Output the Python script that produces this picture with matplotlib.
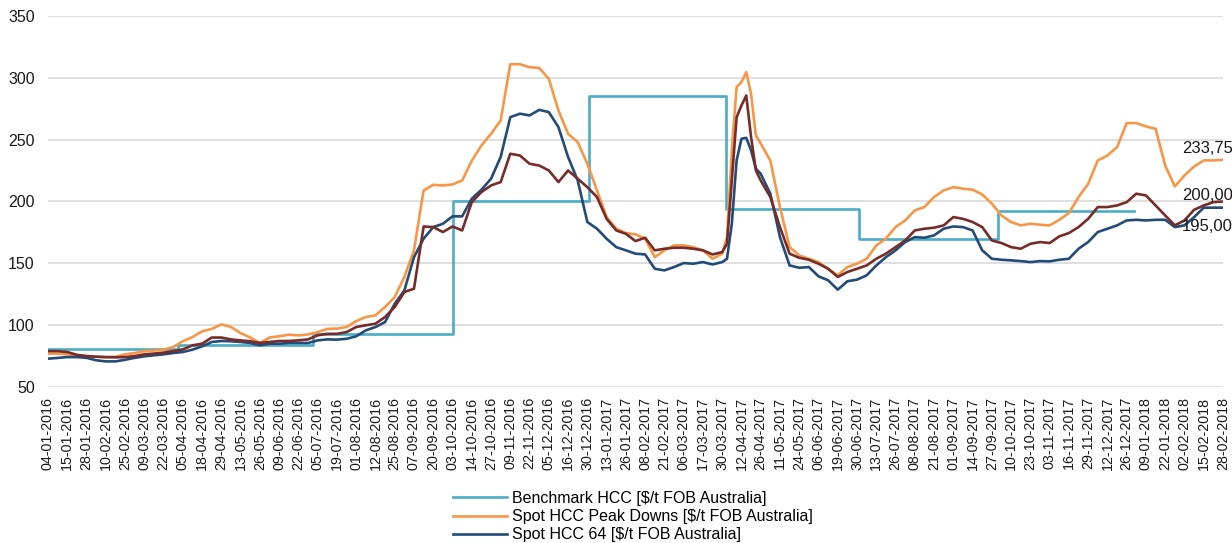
"""Hard coking coal prices 2016-2018: benchmark vs spot, FOB Australia."""

import numpy as np
import matplotlib
matplotlib.use("Agg")
import matplotlib.pyplot as plt

plt.rcParams["font.family"] = ["Liberation Sans", "DejaVu Sans"]

# every 9th business day gets a label
tick_labels = [
    "04-01-2016", "15-01-2016", "28-01-2016", "10-02-2016", "25-02-2016",
    "09-03-2016", "22-03-2016", "05-04-2016", "18-04-2016", "29-04-2016",
    "13-05-2016", "26-05-2016", "09-06-2016", "22-06-2016", "05-07-2016",
    "19-07-2016", "01-08-2016", "12-08-2016", "25-08-2016", "07-09-2016",
    "20-09-2016", "03-10-2016", "14-10-2016", "27-10-2016", "09-11-2016",
    "22-11-2016", "05-12-2016", "16-12-2016", "30-12-2016", "13-01-2017",
    "26-01-2017", "08-02-2017", "21-02-2017", "06-03-2017", "17-03-2017",
    "30-03-2017", "12-04-2017", "26-04-2017", "11-05-2017", "24-05-2017",
    "06-06-2017", "19-06-2017", "30-06-2017", "13-07-2017", "26-07-2017",
    "08-08-2017", "21-08-2017", "01-09-2017", "14-09-2017", "27-09-2017",
    "10-10-2017", "23-10-2017", "03-11-2017", "16-11-2017", "29-11-2017",
    "12-12-2017", "26-12-2017", "09-01-2018", "22-01-2018", "02-02-2018",
    "15-02-2018", "28-02-2018",
]

# sample positions in tick units (finer around the April 2017 spike)
pos = np.concatenate([np.arange(0, 35, 0.5), np.arange(35, 37, 0.25),
                      np.arange(37, 61.01, 0.5)])

# quarterly benchmark: start position of each quarter and its price
bench_x = [0, 6.75, 13.75, 21.0, 28.1, 35.2, 42.1, 49.3, 56.4]
bench_y = [81, 84, 92.5, 200, 285, 193.6, 170, 192, 192]

peak_downs = [
    77, 77, 76.4, 75.5, 75, 74.5, 74, 74.5, 76.4, 77.5,
    79, 79.5, 80.2, 82.3, 87, 90.4, 95, 97, 100.6, 98.5,
    93.6, 90, 85.6, 90, 91, 92.3, 91.7, 92.5, 94.4, 97,
    97.2, 98.5, 103.3, 106.6, 108, 114.7, 122.7, 139, 160.5, 209,
    213.5, 213, 213.8, 217, 233, 245.3, 254.7, 265.5, 311, 311,
    308.6, 308, 299.2, 273.6, 254.7, 248, 230.5, 209, 187.4, 178,
    174.5, 173.4, 170, 155, 160.5, 164.5, 164.5, 163.1, 160.5, 153.7,
    157.8, 171.2, 241.3, 292.5, 296.5, 304.6, 287, 253.3,
    247, 233, 195.5, 163.1, 156.4, 153.7, 151, 145.6, 140.3, 147,
    149.7, 153.7, 164.5, 170, 179.3, 184.7, 192.8, 195.5, 203.6, 209,
    211.6, 210.3, 209.5, 205.7, 198.2, 188.7, 183.4, 180.7, 182, 181.2,
    180.7, 185.2, 190.6, 203.6, 214.3, 233.2, 237.2, 244, 263.4, 263.4,
    260.7, 258.8, 229, 212.2, 221, 228.3, 233.2, 233.2, 233.75,
]

hcc64 = [
    72.9, 73.5, 74.2, 74.2, 73.6, 71.6, 70.7, 70.7, 72, 73.6,
    74.8, 75.6, 76.4, 77.5, 78.3, 80.2, 82.9, 86.4, 87.2, 87,
    86.4, 85.6, 83.7, 85, 85, 85.6, 85.6, 85.6, 87.7, 88.5,
    88.3, 89, 91, 95.8, 98.5, 102.5, 117.3, 128.1, 155, 169.9,
    179.3, 182, 188, 188, 202.2, 209.5, 218.4, 236, 268.2, 271,
    269.6, 274.1, 272.3, 260.1, 236, 217, 183.4, 178, 169.9, 163.1,
    160.5, 157.8, 157.2, 145.6, 144.3, 147, 150.2, 149.7, 151, 149.1,
    151, 153.7, 182, 233.2, 250.7, 251.5, 241.3, 226.5,
    222.4, 206.3, 171.2, 148.3, 146.4, 147, 139.5, 136.3, 128.7, 135.5,
    136.8, 140.3, 148.3, 155, 160.5, 167.2, 171.2, 170.7, 172.6, 178,
    179.8, 179.3, 176.6, 160.5, 153.7, 152.9, 152.4, 151.8, 151, 151.8,
    151.6, 152.9, 153.7, 161.8, 167.2, 175.3, 178, 180.7, 184.7, 185.2,
    184.7, 185.2, 185.2, 179.3, 180.7, 187.4, 195, 195, 195,
]

# fourth series (maroon), its legend entry falls outside the picture
spot_other = [
    79, 79, 78.3, 76, 75, 74.5, 74.2, 74, 74.2, 75,
    76.4, 77, 77.8, 79, 80.4, 83.7, 85, 90, 90, 88.5,
    87.7, 87, 85.6, 86.4, 87.2, 87.2, 87.7, 88.5, 91.8, 93,
    93, 94.4, 98.5, 99.9, 101.2, 106.6, 114.7, 126.8, 129.5, 179.8,
    179.3, 175.3, 179.8, 176.6, 199.5, 207.6, 213, 215.7, 238.6, 237.2,
    230.5, 229.1, 225.1, 215.7, 225.1, 218.4, 211.6, 203.6, 186, 176.6,
    173.9, 168, 170.7, 160.5, 161.8, 162.6, 162.6, 161.8, 160.5, 157.2,
    159.1, 165.8, 217, 268.2, 277.6, 285.7, 252, 225.1,
    217, 203.6, 179.3, 157.8, 154.5, 152.9, 149.7, 145.6, 139, 143,
    145.6, 148.3, 153.7, 157.8, 163.1, 168.5, 176.6, 178, 178.8, 180.7,
    187.4, 186, 183.4, 179.3, 168.5, 166.4, 163.1, 161.8, 165.8, 167.2,
    166.4, 171.8, 174.5, 179.3, 186, 195.5, 195.5, 196.8, 199.5, 206.3,
    204.9, 196.8, 188.7, 180.7, 184.7, 193.3, 196.8, 199.5, 200,
]

TEAL, ORANGE, NAVY, MAROON = "#4bacc6", "#f79646", "#234b78", "#772c2a"
GRID, INK = "#d9d9d9", "#1a1a1a"

fig = plt.figure(figsize=(12.32, 5.43), dpi=100)
ax = fig.add_axes([48 / 1232, 1 - 387 / 543, 1175 / 1232, 371 / 543])

ax.plot(bench_x, bench_y, drawstyle="steps-post", color=TEAL, lw=1.9,
        label="Benchmark HCC [$/t FOB Australia]")
ax.plot(pos, peak_downs, color=ORANGE, lw=1.9,
        label="Spot HCC Peak Downs [$/t FOB Australia]")
ax.plot(pos, hcc64, color=NAVY, lw=1.9,
        label="Spot HCC 64 [$/t FOB Australia]")
ax.plot(pos, spot_other, color=MAROON, lw=1.9, label="_nolegend_")

# end-of-series value labels
for series, dy in ((peak_downs, 8.3), (spot_other, 4.5), (hcc64, -13.4)):
    ax.annotate(f"{series[-1]:.2f}".replace(".", ","), (pos[-1], series[-1]),
                xytext=(-29.5, dy), textcoords="offset points",
                ha="left", va="center", fontsize=12, color=INK,
                annotation_clip=False)

ax.set_xlim(0, 61)
ax.set_ylim(50, 350)
ax.set_yticks(range(50, 351, 50))
ax.set_xticks(range(len(tick_labels)))
ax.set_xticklabels(tick_labels, rotation=90)
ax.tick_params(axis="x", length=0, pad=7, labelsize=10.3, colors=INK)
ax.tick_params(axis="y", length=0, pad=9.5, labelsize=11.5, colors=INK)
ax.grid(axis="y", color=GRID, lw=1.2)
ax.set_axisbelow(True)
for s in ax.spines.values():
    s.set_visible(False)

fig.legend(loc="upper left", bbox_to_anchor=(453 / 1232, 1 - 491 / 543),
           frameon=False, fontsize=11.5, borderpad=0, borderaxespad=0,
           handlelength=3.4, handletextpad=0.3, labelspacing=0.2)

fig.savefig("out.png", dpi=100, facecolor="white")
